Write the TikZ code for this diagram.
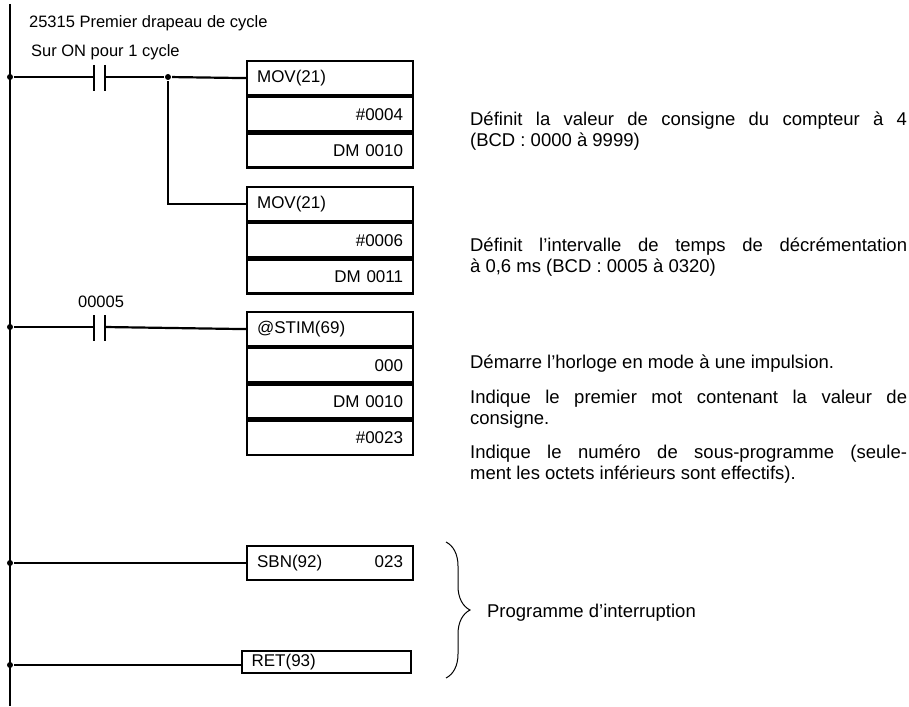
\documentclass[tikz,border=0pt]{standalone}
\usepackage{fontspec}
\setmainfont{Liberation Sans}
\usetikzlibrary{decorations.pathreplacing}
\begin{document}
\begin{tikzpicture}[x=1pt,y=-1pt,line width=2.2pt,
 cell/.style={draw,minimum width=166pt,minimum height=34pt,inner sep=0pt,text width=146pt,font=\fontsize{17}{18}\selectfont},
 lt/.style={cell,align=left},
 rt/.style={cell,align=right},
 lbl/.style={anchor=base west,inner sep=0pt,font=\fontsize{16.5}{18}\selectfont},
 desc/.style={anchor=base west,inner sep=0pt,text width=437pt,align=justify,font=\fontsize{18.5}{21}\selectfont},
 dot/.style={circle,fill,inner sep=0pt,minimum size=6pt}]
\useasboundingbox (0,0) rectangle (909,706);
\coordinate (top) at (10,4);
\coordinate (bot) at (10,706);
\draw (top) -- (bot);
\node[lbl] (l1) at (28,28) {25315 Premier drapeau de cycle};
\node[lbl] (l2) at (30,57) {Sur ON pour 1 cycle};
% rung 1
\node[dot] (d1) at (10,77) {};
\node[dot] (d2) at (168,77) {};
\coordinate (c1a) at (94,77); \coordinate (c1b) at (105,77);
\draw (d1) -- (c1a) (c1b) -- (d2);
\draw (94,65) -- (94,91) (105,65) -- (105,91);
\node[lt,anchor=north west] (b1a) at (246,60) {MOV(21)};
\node[rt,anchor=north] (b1b) at (b1a.south) {\#0004};
\node[rt,anchor=north] (b1c) at (b1b.south) {DM 0010};
\draw (d2) -- (b1a.west);
\node[lt,anchor=north west] (b2a) at (246,186) {MOV(21)};
\node[rt,anchor=north] (b2b) at (b2a.south) {\#0006};
\node[rt,anchor=north] (b2c) at (b2b.south) {DM 0011};
\draw (d2) |- (b2a.west);
% rung 3
\node[lbl] (l3) at (77,307) {00005};
\node[dot] (d3) at (10,327) {};
\coordinate (c3a) at (94,327); \coordinate (c3b) at (105,327);
\draw (d3) -- (c3a);
\draw (94,315) -- (94,341) (105,315) -- (105,341);
\node[lt,anchor=north west] (b3a) at (246,311) {@STIM(69)};
\node[rt,anchor=north] (b3b) at (b3a.south) {000};
\node[rt,anchor=north] (b3c) at (b3b.south) {DM 0010};
\node[rt,anchor=north] (b3d) at (b3c.south) {\#0023};
\draw (c3b) -- (b3a.west);
% SBN
\node[dot] (d4) at (10,563) {};
\node[lt,anchor=west] (sbn) at (246,563) {SBN(92)\hfill 023};
\draw (d4) -- (sbn.west);
\node[dot] (d5) at (10,665) {};
\node[draw,anchor=west,minimum width=169pt,minimum height=22pt,inner sep=0pt,text width=150pt,align=left,font=\fontsize{17}{18}\selectfont] (ret) at (241,662) {RET(93)};
\draw (d5) -- (ret.west |- d5);
% brace
\coordinate (br1) at (446,542); \coordinate (br2) at (446,678);
\draw[line width=1pt,decorate,decoration={brace,amplitude=24pt,aspect=0.5}] (br1) -- (br2);
\node[desc,text width={}] (prog) at (486,617) {Programme d’interruption};
% descriptions
\node[desc] (t1) at (469,125) {Définit la valeur de consigne du compteur à 4\linebreak (BCD : 0000 à 9999)};
\node[desc] (t2) at (469,251) {Définit l’intervalle de temps de décrémentation\linebreak à 0,6 ms (BCD : 0005 à 0320)};
\node[desc] (t3) at (469,368) {Démarre l’horloge en mode à une impulsion.};
\node[desc] (t4) at (469,403) {Indique le premier mot contenant la valeur de\linebreak consigne.};
\node[desc] (t5) at (469,458) {Indique le numéro de sous-programme (seule-\linebreak ment les octets inférieurs sont effectifs).};
\end{tikzpicture}
\end{document}
